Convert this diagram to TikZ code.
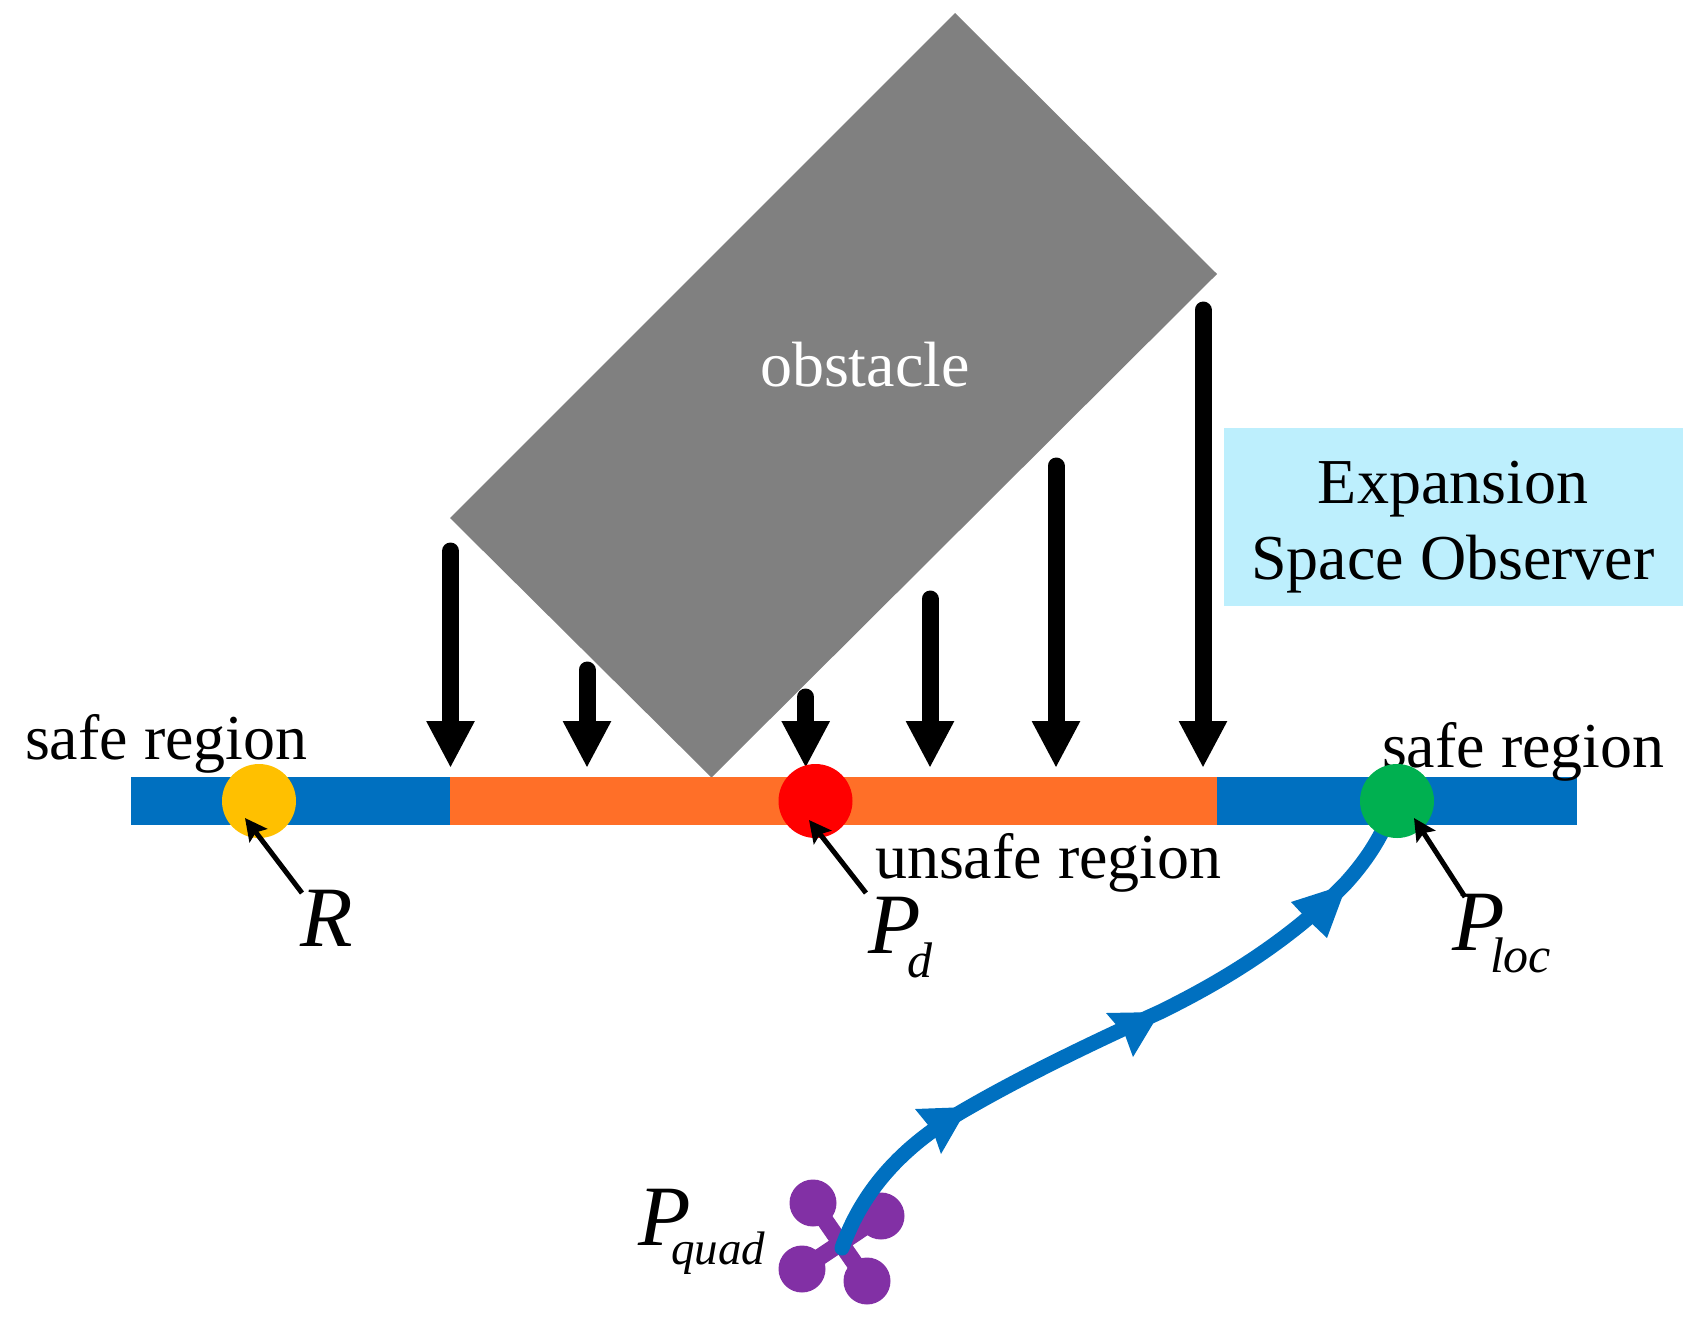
\documentclass[tikz,border=0pt]{standalone}
\usepackage{fontspec}
\setmainfont{Liberation Serif}
\usetikzlibrary{arrows.meta}
\definecolor{barblue}{HTML}{0070C0}
\definecolor{barorange}{HTML}{FF6F28}
\definecolor{dotyellow}{HTML}{FFC000}
\definecolor{dotgreen}{HTML}{00B050}
\definecolor{obgray}{HTML}{808080}
\definecolor{boxcyan}{HTML}{BDEFFD}
\definecolor{quadpurple}{HTML}{8230A5}
\tikzset{
  x=1pt,y=-1pt,
  lab/.style={inner sep=0pt,outer sep=0pt,anchor=base west,font=\fontsize{64}{75.5}\selectfont},
  symb/.style={inner sep=0pt,outer sep=0pt,anchor=base west,font=\fontsize{86}{90}\selectfont\itshape},
  subs/.style={inner sep=0pt,outer sep=0pt,anchor=base west,font=\fontsize{50}{54}\selectfont\itshape},
  dot/.style={circle,inner sep=0pt,outer sep=0pt,minimum size=74pt},
  seg/.style={rectangle,inner sep=0pt,outer sep=0pt,minimum height=48pt},
  bigdown/.style={line width=17pt,line cap=round,-{Triangle[width=45pt,length=47pt]}},
  pointer/.style={line width=5pt,-{Stealth[width=22pt,length=22pt,inset=4pt]}},
  rotor/.style={circle,fill=quadpurple,inner sep=0pt,outer sep=0pt,minimum size=47pt},
  arm/.style={line width=17pt,draw=quadpurple},
  pathline/.style={line width=15pt,draw=barblue,line cap=round},
  pathhead/.style={fill=barblue},
}
\begin{document}
\begin{tikzpicture}
\useasboundingbox (0,0) rectangle (1698,1323);
% obstacle
\fill[obgray] (955,13) -- (1217,274) -- (711.5,777.5) -- (450,518) -- cycle;
\node[lab,text=white] (oblabel) at (760,386) {obstacle};
% bar
\node[seg,fill=barblue,minimum width=319pt,anchor=north west] (barL) at (131,777) {};
\node[seg,fill=barorange,minimum width=767pt,anchor=north west] (barM) at (450,777) {};
\node[seg,fill=barblue,minimum width=360pt,anchor=north west] (barR) at (1217,777) {};
% expansion box
\node[fill=boxcyan,inner sep=0pt,minimum width=459pt,minimum height=178pt] (box) at (1453.5,517) {};
\node[inner sep=0pt,align=center,font=\fontsize{64}{75.5}\selectfont] (boxtext) at (1453,527) {Expansion\\Space Observer};
% force arrows
\foreach \n/\xx/\yy in {a/450.5/551,b/587/670,c/805.7/697,d/930/599,e/1056/466,f/1203/310}{
  \coordinate (t\n) at (\xx,\yy);
  \coordinate (h\n) at (\xx,768);
  \draw[bigdown] (t\n) -- (h\n);
}
% text labels
\node[lab] (safeL) at (25,759.5) {safe region};
\node[lab] (safeR) at (1382,767.5) {safe region};
\node[lab] (unsafe) at (875,878) {unsafe region};
% trajectory
\coordinate (qc) at (842,1248);
\coordinate (ge) at (1392,810);
\node[rotor] (q1) at (813,1203) {};
\node[rotor] (q2) at (881,1216) {};
\node[rotor] (q3) at (802,1269) {};
\node[rotor] (q4) at (867,1281) {};
\draw[arm] (q1.center) -- (q4.center);
\draw[arm] (q2.center) -- (q3.center);
\draw[pathline] (qc) .. controls (866,1180) and (915,1138) .. (968,1108)
  .. controls (1020,1078) and (1085,1046) .. (1160,1012)
  .. controls (1215,985) and (1285,945) .. (1345,884)
  .. controls (1365,862) and (1380,840) .. (ge);
\fill[pathhead] (915,1109) -- (968,1107) -- (941,1154) -- (933,1131) -- cycle;
\fill[pathhead] (1106,1013) -- (1160,1012) -- (1133,1057) -- (1125,1035) -- cycle;
\fill[pathhead] (1291,902) -- (1347,884) -- (1327,938) -- (1305,917) -- cycle;
% dots
\node[dot,fill=dotyellow] (R) at (259,801) {};
\node[dot,fill=red] (Pd) at (815.5,801) {};
\node[dot,fill=dotgreen] (Ploc) at (1397,801) {};
% symbols
\node[symb] (Rlab) at (300,946) {R};
\node[symb] (Pdlab) at (868,953) {P};
\node[subs] (Pdsub) at (907,977) {d};
\node[symb] (Plocl) at (1452,950) {P};
\node[subs] (Plocs) at (1490,972) {loc};
\node[symb] (Pql) at (638,1245) {P};
\node[subs,font=\fontsize{47}{50}\selectfont\itshape] (Pqs) at (671,1264) {quad};
% pointers
\coordinate (rs) at (302,893); \coordinate (rt) at (245,818);
\coordinate (ds) at (866,893); \coordinate (dt) at (809,820);
\coordinate (ls) at (1465,897); \coordinate (lt) at (1414,818);
\draw[pointer] (rs) -- (rt);
\draw[pointer] (ds) -- (dt);
\draw[pointer] (ls) -- (lt);
\end{tikzpicture}
\end{document}
